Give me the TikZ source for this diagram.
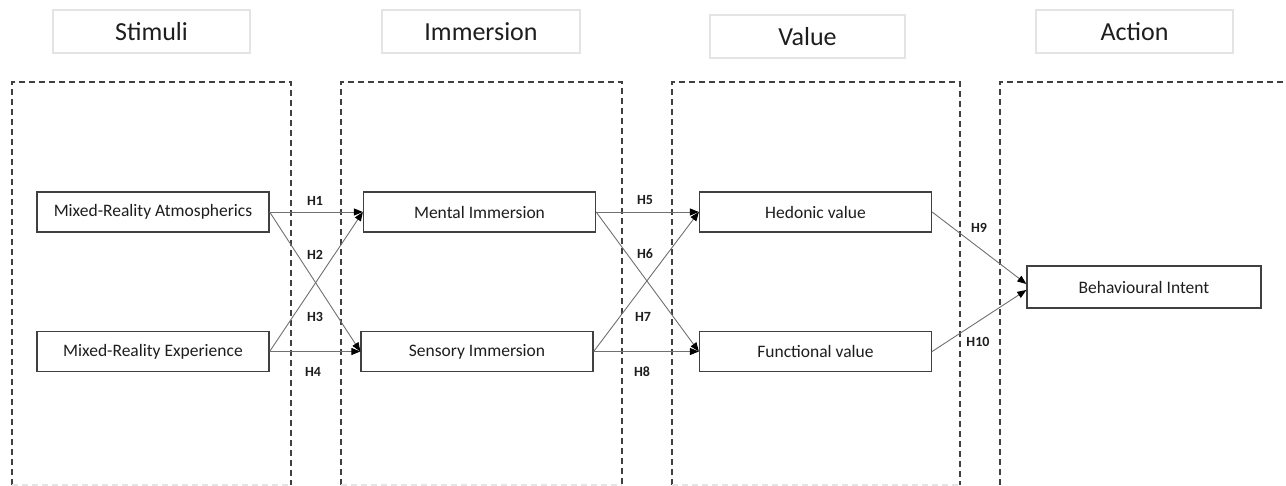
\documentclass[tikz,border=0pt]{standalone}
\usepackage{fontspec}
\setmainfont{Carlito}
\usetikzlibrary{arrows.meta}
\definecolor{framegray}{HTML}{404040}
\definecolor{lightframe}{HTML}{E4E4E4}
\definecolor{linkgray}{HTML}{707070}
\definecolor{inkgray}{HTML}{1E1E1E}
\tikzset{
  headbox/.style={draw=lightframe, line width=1.5pt, fill=white, inner sep=0pt,
    text=inkgray, font=\fontsize{26}{30}\selectfont},
  stagebox/.style={draw=framegray, line width=1.3pt, dash pattern=on 6pt off 4pt},
  stagebottom/.style={draw=lightframe, line width=1.3pt, dash pattern=on 6pt off 4pt},
  construct/.style={draw=framegray, line width=1.3pt, fill=white, inner sep=0pt,
    minimum width=232pt, minimum height=40pt, text=inkgray,
    font=\fontsize{17.5}{20}\selectfont},
  link/.style={draw=linkgray, line width=0.9pt,
    -{Triangle[length=9pt,width=7pt,fill=black,color=black]}},
  hyp/.style={font=\fontsize{14}{16}\bfseries\selectfont, text=inkgray, inner sep=1pt}
}
\begin{document}
\begin{tikzpicture}[x=1pt, y=-1pt]
  \useasboundingbox (0,0) rectangle (1286,486);

  % stage headings
  \node[headbox, minimum width=197pt, minimum height=43pt] (hStim) at (151.5,31.5) {Stimuli};
  \node[headbox, minimum width=198pt, minimum height=43pt] (hImm) at (481,31.5) {Immersion};
  \node[headbox, minimum width=195pt, minimum height=43pt] (hVal) at (807.5,36.5) {Value};
  \node[headbox, minimum width=197pt, minimum height=43pt] (hAct) at (1134.5,31.5) {Action};

  % dashed stage frames (bottom edge is faint)
  \draw[stagebox] (12,485) -- (12,82) -- (291,82) -- (291,485);
  \draw[stagebottom] (12,485) -- (291,485);
  \draw[stagebox] (341,485) -- (341,82) -- (622,82) -- (622,485);
  \draw[stagebottom] (341,485) -- (622,485);
  \draw[stagebox] (672,485) -- (672,82) -- (960,82) -- (960,485);
  \draw[stagebottom] (672,485) -- (960,485);
  \draw[stagebox] (1000,485) -- (1000,82) -- (1300,82);

  % constructs
  \node[construct] (mra) at (153,212) {Mixed-Reality Atmospherics};
  \node[construct] (mre) at (153,351.5) {Mixed-Reality Experience};
  \node[construct] (mi) at (479.5,212) {Mental Immersion};
  \node[construct] (si) at (477,351.5) {Sensory Immersion};
  \node[construct] (hv) at (815.5,212) {Hedonic value};
  \node[construct] (fv) at (815.5,351.5) {Functional value};
  \node[construct, minimum width=234pt, minimum height=42pt] (bi) at (1144,287) {Behavioural Intent};

  \coordinate (biA) at ([yshift=3pt]bi.west);
  \coordinate (biB) at ([yshift=-3pt]bi.west);

  % hypothesised paths
  \draw[link] (mra.east) -- (mi.west);
  \draw[link] (mra.east) -- (si.west);
  \draw[link] (mre.east) -- (mi.west);
  \draw[link] (mre.east) -- (si.west);
  \draw[link] (mi.east) -- (hv.west);
  \draw[link] (mi.east) -- (fv.west);
  \draw[link] (si.east) -- (hv.west);
  \draw[link] (si.east) -- (fv.west);
  \draw[link] (hv.east) -- (biA);
  \draw[link] (fv.east) -- (biB);

  % path labels
  \node[hyp] (h1) at (315,201) {H1};
  \node[hyp] (h2) at (315,255) {H2};
  \node[hyp] (h3) at (315,317) {H3};
  \node[hyp] (h4) at (313,372) {H4};
  \node[hyp] (h5) at (645,200) {H5};
  \node[hyp] (h6) at (645,254) {H6};
  \node[hyp] (h7) at (643,317) {H7};
  \node[hyp] (h8) at (642,372) {H8};
  \node[hyp] (h9) at (979,228) {H9};
  \node[hyp] (h10) at (978,342) {H10};
\end{tikzpicture}
\end{document}
